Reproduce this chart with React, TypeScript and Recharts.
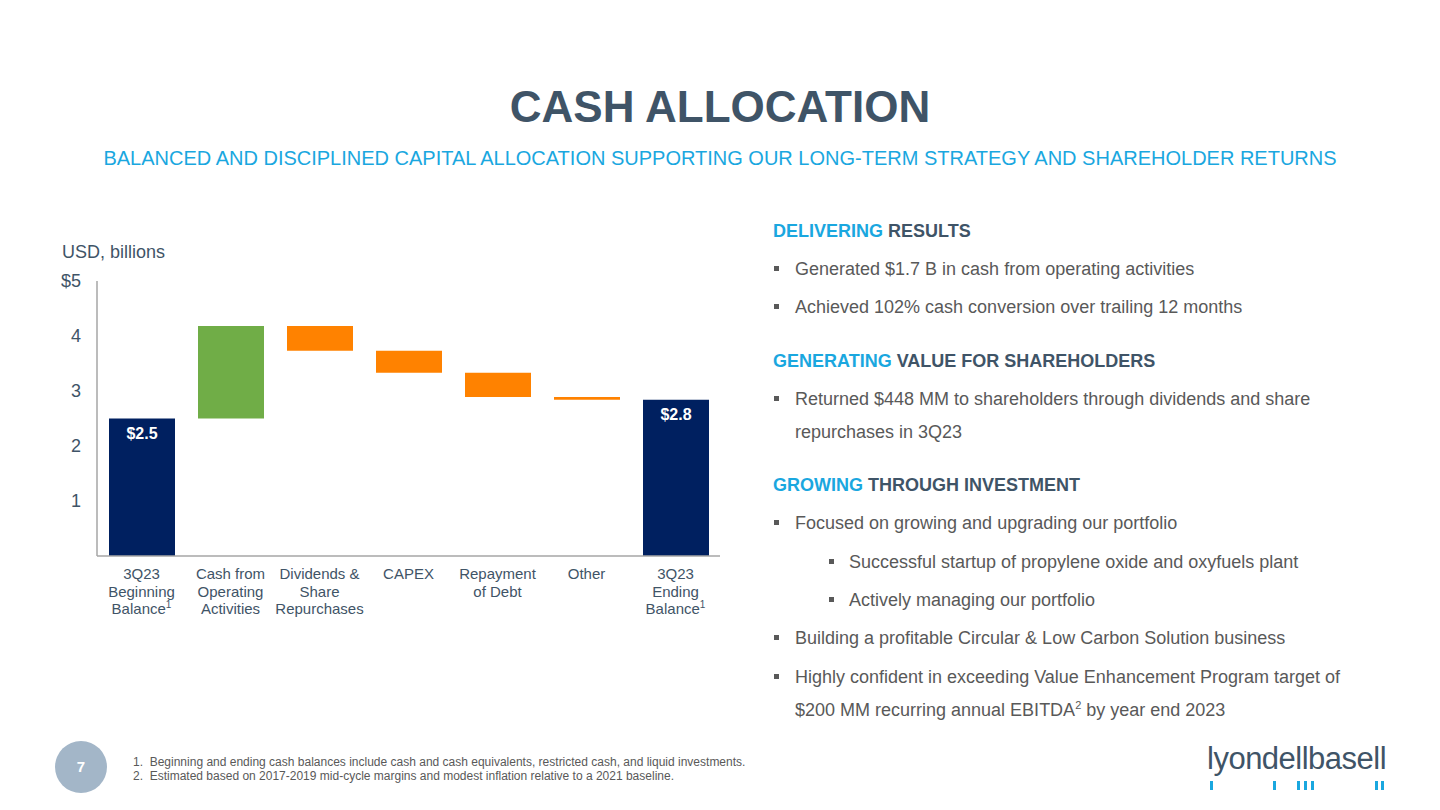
import React from "react";
import { BarChart, Bar, XAxis, YAxis, Cell, LabelList } from "recharts";

// Waterfall data, USD billions
const categories = [
  "3Q23\nBeginning\nBalance^1",
  "Cash from\nOperating\nActivities",
  "Dividends &\nShare\nRepurchases",
  "CAPEX",
  "Repayment\nof Debt",
  "Other",
  "3Q23\nEnding\nBalance^1",
];
const beginningBalance = 2.5;
const changes = [1.68, -0.45, -0.4, -0.44, -0.05];
const endingBalance = 2.84;
const balanceLabels = ["$2.5", "$2.8"];
const yTicks = [1, 2, 3, 4, 5];

const NAVY = "#002060";
const GREEN = "#70AD47";
const ORANGE = "#FF8200";
const SLATE = "#3F5467";
const GREY = "#595959";
const BLUE = "#1AA7DF";
const FONT = "'Liberation Sans', Arial, sans-serif";

// build [low, high] ranges for the floating bars
const data = (() => {
  const rows: { name: string; range: [number, number]; color: string; label?: string }[] = [];
  rows.push({ name: categories[0], range: [0, beginningBalance], color: NAVY, label: balanceLabels[0] });
  let running = beginningBalance;
  changes.forEach((c, i) => {
    const next = running + c;
    rows.push({
      name: categories[i + 1],
      range: [Math.min(running, next), Math.max(running, next)],
      color: c >= 0 ? GREEN : ORANGE,
    });
    running = next;
  });
  rows.push({ name: categories[6], range: [0, endingBalance], color: NAVY, label: balanceLabels[1] });
  return rows;
})();

const CategoryTick = (props: any) => {
  const { x, y, payload } = props;
  const lines: string[] = String(payload.value).split("\n");
  return (
    <text x={x} y={y} textAnchor="middle" fill={SLATE} fontSize={15} fontFamily={FONT}>
      {lines.map((line, i) => {
        const [main, sup] = line.split("^");
        return (
          <tspan key={i} x={x} dy={i === 0 ? 23 : 17.5}>
            {main}
            {sup && (
              <tspan fontSize={10} dy={-6}>
                {sup}
              </tspan>
            )}
            {sup && <tspan dy={6}>{""}</tspan>}
          </tspan>
        );
      })}
    </text>
  );
};

const BalanceLabel = (props: any) => {
  const { x, y, width, index } = props;
  const label = data[index]?.label;
  if (!label) return null;
  return (
    <text
      x={x + width / 2}
      y={y + 20}
      textAnchor="middle"
      fill="#fff"
      fontSize={16}
      fontWeight="bold"
      fontFamily={FONT}
    >
      {label}
    </text>
  );
};

const Line = ({ y, x, children, size = 18, color = GREY, weight = 400 }: any) => (
  <div
    style={{
      position: "absolute",
      left: x,
      top: y - 12,
      height: 24,
      lineHeight: "24px",
      fontSize: size,
      color,
      fontWeight: weight,
      whiteSpace: "nowrap",
    }}
  >
    {children}
  </div>
);

const Bullet = ({ y, level = 0, children }: any) => {
  const bx = level === 0 ? 774 : 829;
  const tx = level === 0 ? 795 : 849;
  return (
    <>
      <div style={{ position: "absolute", left: bx, top: y - 3, width: 5, height: 5, background: GREY }} />
      <Line x={tx} y={y}>
        {children}
      </Line>
    </>
  );
};

const Heading = ({ y, accent, rest }: any) => (
  <Line x={773} y={y} size={18} weight={700} color={SLATE}>
    <span style={{ color: BLUE }}>{accent}</span> {rest}
  </Line>
);

export default function App() {
  return (
    <div
      style={{
        position: "absolute",
        left: 0,
        top: 0,
        width: 1440,
        height: 810,
        background: "#fff",
        overflow: "hidden",
        fontFamily: FONT,
      }}
    >
      <div
        style={{
          position: "absolute",
          left: 0,
          width: 1440,
          top: 81,
          textAlign: "center",
          fontSize: 44,
          fontWeight: 700,
          color: SLATE,
          lineHeight: "52px",
        }}
      >
        CASH ALLOCATION
      </div>
      <div
        style={{
          position: "absolute",
          left: 0,
          width: 1440,
          top: 145,
          textAlign: "center",
          fontSize: 20,
          color: BLUE,
          lineHeight: "26px",
        }}
      >
        BALANCED AND DISCIPLINED CAPITAL ALLOCATION SUPPORTING OUR LONG-TERM STRATEGY AND SHAREHOLDER RETURNS
      </div>

      <Line x={62} y={252} color={SLATE}>
        USD, billions
      </Line>

      <div style={{ position: "absolute", left: 0, top: 266 }}>
        <BarChart width={740} height={360} data={data} margin={{ top: 15, right: 20, bottom: 0, left: 57 }}>
          <XAxis
            dataKey="name"
            interval={0}
            height={70}
            tickLine={false}
            tickSize={0}
            tickMargin={0}
            axisLine={{ stroke: "#A6A6A6", strokeWidth: 1.5 }}
            tick={<CategoryTick />}
          />
          <YAxis
            width={40}
            domain={[0, 5]}
            ticks={yTicks}
            tickLine={false}
            tickSize={0}
            tickMargin={16}
            axisLine={{ stroke: "#A6A6A6", strokeWidth: 1.5 }}
            tick={{ fill: SLATE, fontSize: 18, fontFamily: FONT }}
            tickFormatter={(v: number) => (v === 5 ? "$5" : String(v))}
          />
          <Bar dataKey="range" barSize={66} isAnimationActive={false}>
            {data.map((d, i) => (
              <Cell key={i} fill={d.color} />
            ))}
            <LabelList dataKey="range" content={<BalanceLabel />} />
          </Bar>
        </BarChart>
      </div>

      <Heading y={231} accent="DELIVERING" rest="RESULTS" />
      <Bullet y={269}>Generated $1.7 B in cash from operating activities</Bullet>
      <Bullet y={307}>Achieved 102% cash conversion over trailing 12 months</Bullet>

      <Heading y={361} accent="GENERATING" rest="VALUE FOR SHAREHOLDERS" />
      <Bullet y={399}>Returned $448 MM to shareholders through dividends and share</Bullet>
      <Line x={795} y={432}>repurchases in 3Q23</Line>

      <Heading y={485} accent="GROWING" rest="THROUGH INVESTMENT" />
      <Bullet y={523}>Focused on growing and upgrading our portfolio</Bullet>
      <Bullet y={562} level={1}>Successful startup of propylene oxide and oxyfuels plant</Bullet>
      <Bullet y={600} level={1}>Actively managing our portfolio</Bullet>
      <Bullet y={638}>Building a profitable Circular &amp; Low Carbon Solution business</Bullet>
      <Bullet y={677}>Highly confident in exceeding Value Enhancement Program target of</Bullet>
      <Line x={795} y={710}>
        $200 MM recurring annual EBITDA<sup style={{ fontSize: 11, lineHeight: 0 }}>2</sup> by year end 2023
      </Line>

      <div
        style={{
          position: "absolute",
          left: 55,
          top: 741,
          width: 52,
          height: 52,
          borderRadius: "50%",
          background: "#A3B6C8",
          color: "#fff",
          fontWeight: 700,
          fontSize: 15,
          textAlign: "center",
          lineHeight: "52px",
        }}
      >
        7
      </div>
      <div style={{ position: "absolute", left: 133, top: 755, fontSize: 12, color: GREY, lineHeight: "14px" }}>
        <div>1.&nbsp;&nbsp;Beginning and ending cash balances include cash and cash equivalents, restricted cash, and liquid investments.</div>
        <div>2.&nbsp;&nbsp;Estimated based on 2017-2019 mid-cycle margins and modest inflation relative to a 2021 baseline.</div>
      </div>

      <div
        style={{
          position: "absolute",
          left: 1207,
          top: 741,
          fontSize: 31,
          lineHeight: "36px",
          color: SLATE,
          fontFamily: "'Liberation Sans Narrow', 'Liberation Sans', sans-serif",
          letterSpacing: -0.5,
        }}
      >
        lyondellbasell
      </div>
      {[1210, 1273, 1297, 1304, 1311, 1375, 1381].map((lx) => (
        <div key={lx} style={{ position: "absolute", left: lx, top: 781, width: 2.5, height: 9, background: BLUE }} />
      ))}
    </div>
  );
}
